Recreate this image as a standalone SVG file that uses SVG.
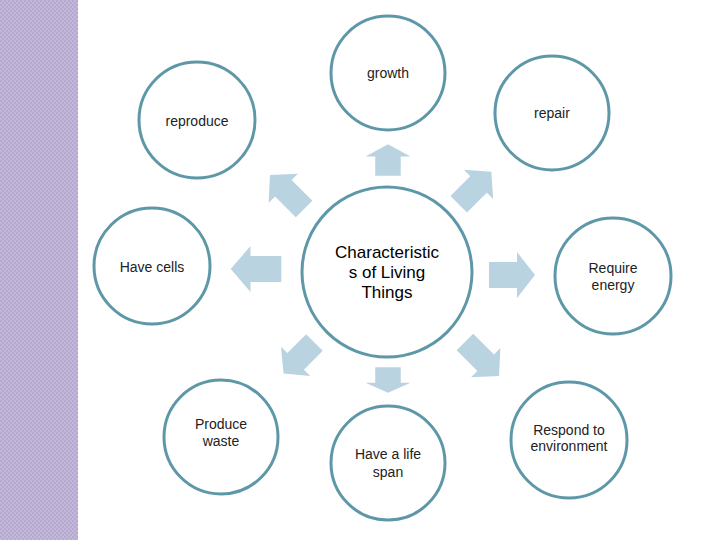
<svg xmlns="http://www.w3.org/2000/svg" width="720" height="540" viewBox="0 0 720 540">
<style>
.n{fill:#fff;stroke:#5e98a8;stroke-width:3}
.t{font-family:"Liberation Sans",Arial,sans-serif;font-size:14px;fill:#222;text-anchor:middle}
.c{font-size:17px;fill:#000}
.a{fill:#bad3e0}
</style>
<defs>
<pattern id="chk" width="4" height="4" patternUnits="userSpaceOnUse">
<rect width="4" height="4" fill="#c3b8d8"/><rect width="2" height="2" fill="#b5a9cf"/><rect x="2" y="2" width="2" height="2" fill="#b5a9cf"/>
</pattern>
<polygon id="arr" points="-23,-13 5,-13 5,-23 23,0 5,23 5,13 -23,13"/>
</defs>
<rect width="720" height="540" fill="#fff"/>
<rect width="78" height="540" fill="url(#chk)"/>
<g id="connectors" class="a">
<use href="#arr" transform="translate(388,160) rotate(-90) scale(0.68,0.98)"/>
<use href="#arr" transform="translate(475,188) rotate(-45) scale(1.0,0.9)"/>
<use href="#arr" transform="translate(287,192) rotate(-135) scale(1.05,0.9)"/>
<use href="#arr" transform="translate(256,269) rotate(180) scale(1.1,1)"/>
<use href="#arr" transform="translate(512,275) scale(1.0,1)"/>
<use href="#arr" transform="translate(299,358) rotate(135) scale(0.95,0.9)"/>
<use href="#arr" transform="translate(388,380) rotate(90) scale(0.55,0.98)"/>
<use href="#arr" transform="translate(482,359) rotate(45) scale(1.05,0.9)"/>
</g>
<g id="center"><circle class="n" cx="387" cy="272" r="85"/>
<text class="t c" x="387" y="258">Characteristic</text><text class="t c" x="387" y="278">s of Living</text><text class="t c" x="387" y="298">Things</text></g>
<g id="growth"><circle class="n" cx="388" cy="73" r="57"/><text class="t" x="388" y="78">growth</text></g>
<g id="repair"><circle class="n" cx="552" cy="113" r="57"/><text class="t" x="552" y="118">repair</text></g>
<g id="reproduce"><circle class="n" cx="197" cy="120" r="58"/><text class="t" x="197" y="126">reproduce</text></g>
<g id="cells"><circle class="n" cx="152" cy="266" r="58"/><text class="t" x="152" y="272">Have cells</text></g>
<g id="energy"><circle class="n" cx="613" cy="276" r="58"/><text class="t" x="613" y="273">Require</text><text class="t" x="613" y="290">energy</text></g>
<g id="waste"><circle class="n" cx="221" cy="437" r="57"/><text class="t" x="221" y="429">Produce</text><text class="t" x="221" y="446">waste</text></g>
<g id="lifespan"><circle class="n" cx="388" cy="463" r="57"/><text class="t" x="388" y="459">Have a life</text><text class="t" x="388" y="477">span</text></g>
<g id="respond"><circle class="n" cx="569" cy="440" r="58"/><text class="t" x="569" y="435">Respond to</text><text class="t" x="569" y="451">environment</text></g>
</svg>
